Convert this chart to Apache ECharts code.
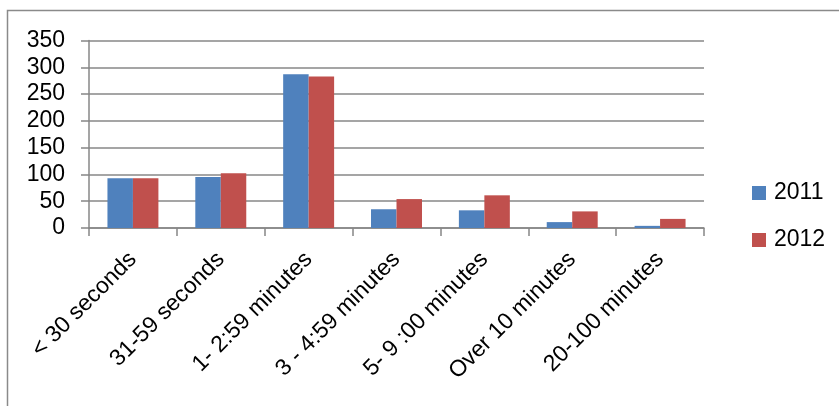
<!DOCTYPE html>
<html>
<head>
<meta charset="utf-8">
<script src="https://cdn.jsdelivr.net/npm/echarts@6/dist/echarts.min.js"></script>
<style>
  html, body { margin: 0; padding: 0; background: #fff; }
  #chart { width: 839px; height: 406px; }
</style>
</head>
<body>
<div id="chart"></div>
<script>
// Call duration buckets
const categories = ['< 30 seconds', '31-59 seconds', '1- 2:59 minutes', '3 - 4:59 minutes', '5- 9 :00 minutes', 'Over 10 minutes', '20-100 minutes'];
const values2011 = [93, 95, 287, 35, 33, 11, 4];
const values2012 = [93, 102, 283, 54, 61, 31, 17];
const seriesNames = ['2011', '2012'];
const yTicks = { min: 0, max: 350, interval: 50 };

const FONT = '"Liberation Sans", Arial, sans-serif';
const GRID_COLOR = '#878787';

const chart = echarts.init(document.getElementById('chart'), null, { renderer: 'canvas' });

chart.setOption({
  animation: false,
  backgroundColor: '#ffffff',
  textStyle: { fontFamily: FONT },
  graphic: [{
    // outer chart frame
    type: 'rect',
    shape: { x: 7.5, y: 10.5, width: 860, height: 420 },
    style: { fill: 'none', stroke: '#8a8a8a', lineWidth: 1.5 },
    silent: true
  }],
  grid: { left: 89, right: 135, top: 40.5, bottom: 178, containLabel: false },
  legend: {
    orient: 'vertical',
    left: 747,
    top: 176,
    itemWidth: 14,
    itemHeight: 14,
    itemGap: 23,
    icon: 'rect',
    textStyle: { fontSize: 23, color: '#000', fontFamily: FONT, lineHeight: 24, padding: [0, 0, 0, 3] },
    data: seriesNames
  },
  xAxis: {
    type: 'category',
    data: categories,
    boundaryGap: true,
    axisLine: { show: true, lineStyle: { color: GRID_COLOR, width: 1.5 } },
    axisTick: { show: true, length: 8, alignWithLabel: false, lineStyle: { color: GRID_COLOR, width: 1.5 } },
    axisLabel: {
      interval: 0,
      rotate: 45,
      margin: 28,
      fontSize: 23,
      color: '#000',
      fontFamily: FONT
    }
  },
  yAxis: {
    type: 'value',
    min: yTicks.min,
    max: yTicks.max,
    interval: yTicks.interval,
    axisLine: { show: true, lineStyle: { color: GRID_COLOR, width: 1.5 } },
    axisTick: { show: true, length: 8, lineStyle: { color: GRID_COLOR, width: 1.5 } },
    splitLine: { show: true, lineStyle: { color: GRID_COLOR, width: 1.5 } },
    axisLabel: { fontSize: 23, color: '#000', margin: 24, fontFamily: FONT }
  },
  series: [
    {
      name: seriesNames[0],
      type: 'bar',
      data: values2011,
      barGap: '0%',
      barCategoryGap: '42%',
      itemStyle: { color: '#4F81BD' }
    },
    {
      name: seriesNames[1],
      type: 'bar',
      data: values2012,
      barGap: '0%',
      barCategoryGap: '42%',
      itemStyle: { color: '#C0504D' }
    }
  ]
});
</script>
</body>
</html>
